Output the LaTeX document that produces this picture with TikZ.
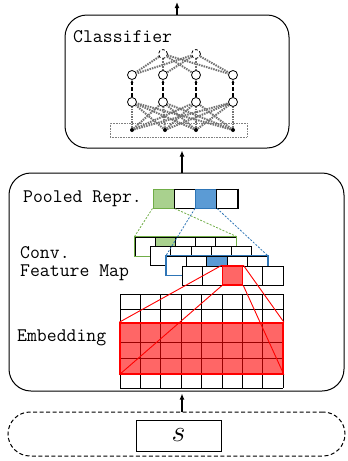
\RequirePackage{fix-cm}
\documentclass[tikz,border=0pt]{standalone}
\usepackage{fontspec}
\usetikzlibrary{arrows.meta}
\definecolor{pgreen}{HTML}{A9D18E}
\definecolor{dgreen}{HTML}{70AD47}
\definecolor{pblue}{HTML}{5B9BD5}
\definecolor{dblue}{HTML}{2E75B6}
\definecolor{pred}{HTML}{FF6666}
\begin{document}
\begin{tikzpicture}[x=1pt,y=-1pt,
  box/.style={draw, line width=1pt, rounded corners=22pt, inner sep=0pt},
  lbl/.style={anchor=west, inner sep=0pt, font=\ttfamily\fontsize{19.2}{20}\selectfont},
  arr/.style={-{Latex[length=6pt,width=5pt]}, line width=1.6pt, shorten >=2pt},
  unit/.style={circle, draw, line width=0.8pt, fill=white, minimum size=9pt, inner sep=0pt},
  dot/.style={circle, fill=black, minimum size=4pt, inner sep=0pt},
  wire/.style={black!55, dash pattern=on 1.5pt off 1pt, line width=2pt},
  cell/.style={draw, fill=white, line width=1pt, minimum width=20.2pt, minimum height=19pt, inner sep=0pt},
  pcell/.style={draw, fill=white, line width=1pt, minimum width=21.2pt, minimum height=19pt, inner sep=0pt},
  link/.style={dash pattern=on 2pt off 1.5pt, line width=0.8pt}]
\useasboundingbox (0,0) rectangle (348,461);

% boxes
\node [box, minimum width=224pt, minimum height=133pt] (clsbox) at (177,81.5) {};
\node [box, minimum width=335pt, minimum height=218pt] (mainbox) at (176.5,282) {};
\node [box, dash pattern=on 4pt off 2.5pt, minimum width=337pt, minimum height=44pt] (inbox) at (176.5,434) {};
\node [draw, line width=0.8pt, minimum width=85pt, minimum height=31pt] (sbox) at (178.5,435.5) {\fontsize{30}{32}\selectfont$s$};
\coordinate (out) at (177,0);
\draw [arr] (clsbox.north) -- (out);
\draw [arr] ([xshift=5.5pt]mainbox.north) -- ([xshift=5pt]clsbox.south);
\draw [arr] ([xshift=5.5pt]inbox.north) -- ([xshift=5.5pt]mainbox.south);

% labels
\node [lbl] (lcls) at (73,37) {Classifier};
\node [lbl] (lpool) at (23,199) {Pooled Repr.};
\node [lbl] (lconv) at (20,253) {Conv.};
\node [lbl] (lmap) at (20,273) {Feature Map};
\node [lbl] (lemb) at (17,338) {Embedding};

% classifier
\node [draw=gray, densely dotted, line width=0.6pt, minimum width=137pt, minimum height=14pt] (inp) at (178.5,130) {};
\node [unit, densely dashed] (t1) at (163,54) {};
\node [unit, densely dashed] (t2) at (196,54) {};
\node [unit] (h1) at (132,75) {};
\node [unit] (h2) at (163,75) {};
\node [unit] (h3) at (196,75) {};
\node [unit] (h4) at (233,75) {};
\node [unit] (g1) at (132,102) {};
\node [unit] (g2) at (163,102) {};
\node [unit] (g3) at (196,102) {};
\node [unit] (g4) at (233,102) {};
\node [dot] (d1) at (132,130) {};
\node [dot] (d2) at (165,130) {};
\node [dot] (d3) at (196,130) {};
\node [dot] (d4) at (233,130) {};
\foreach \i in {1,2}
  \foreach \j in {1,...,4}
    \draw [wire] (t\i) -- (h\j);
\foreach \j in {1,...,4}
  \foreach \k in {1,...,4}
    \draw [wire] (d\k) -- (g\j);
\foreach \j in {1,...,4}
  \draw [-{Latex[length=3pt,width=3pt]}, dash pattern=on 4pt off 2pt, line width=1.3pt] (g\j) -- (h\j);

% pooled representation
\node [pcell, fill=pgreen, draw=dgreen] (p1) at (163.6,198.5) {};
\node [pcell] (p2) at (184.8,198.5) {};
\node [pcell, fill=pblue, draw=dblue] (p3) at (206,198.5) {};
\node [pcell] (p4) at (227.2,198.5) {};
\draw [line width=1.4pt] (p4.north east) -- (p4.south east);

% feature maps
\foreach \i in {1,...,5}
  \node [cell] (a\i) at ({135+20.2*(\i-0.5)},246.5) {};
\node [cell, fill=pgreen] (ag) at (a2) {};
\draw [dgreen, line width=1.2pt] (a1.north west) rectangle (a5.south east);
\foreach \i in {1,...,5}
  \node [cell] (b\i) at ({150.7+20.2*(\i-0.5)},256.2) {};
\foreach \i in {1,...,5}
  \node [cell] (c\i) at ({166.4+20.2*(\i-0.5)},265.8) {};
\node [cell, fill=pblue] (cb) at (c3) {};
\draw [dblue, line width=1.2pt] (c1.north west) rectangle (c5.south east);
\foreach \i in {1,...,5}
  \node [cell] (e\i) at ({182.1+20.2*(\i-0.5)},275.5) {};
\node [cell, fill=pred, draw=red, line width=1.4pt] (er) at (e3) {};

\draw [dgreen, link] (p1.south west) -- (a1.north west);
\draw [dgreen, link] (p1.south east) -- (a5.north east);
\draw [dblue, link] (p3.south west) -- (c1.north west);
\draw [dblue, link] (p3.south east) -- (c5.north east);

% embedding
\foreach \x in {0,...,8}
  \draw [line width=1pt] ({120+20.4*\x},294) -- ({120+20.4*\x},388);
\foreach \y in {294,309,323,342,358,374,388}
  \draw [line width=1pt] (120,\y) -- (283.2,\y);
\node [draw=red, line width=1.5pt, fill=red, fill opacity=0.6, minimum width=163.2pt, minimum height=51pt, inner sep=0pt] (emb) at (201.6,348.5) {};
\draw [red, line width=0.9pt] (er.north west) -- (emb.north west);
\draw [red, line width=0.9pt] (er.south west) -- (emb.south west);
\draw [red, line width=0.9pt] (er.north east) -- (emb.north east);
\draw [red, line width=0.9pt] (er.south east) -- (emb.south east);
\end{tikzpicture}
\end{document}
